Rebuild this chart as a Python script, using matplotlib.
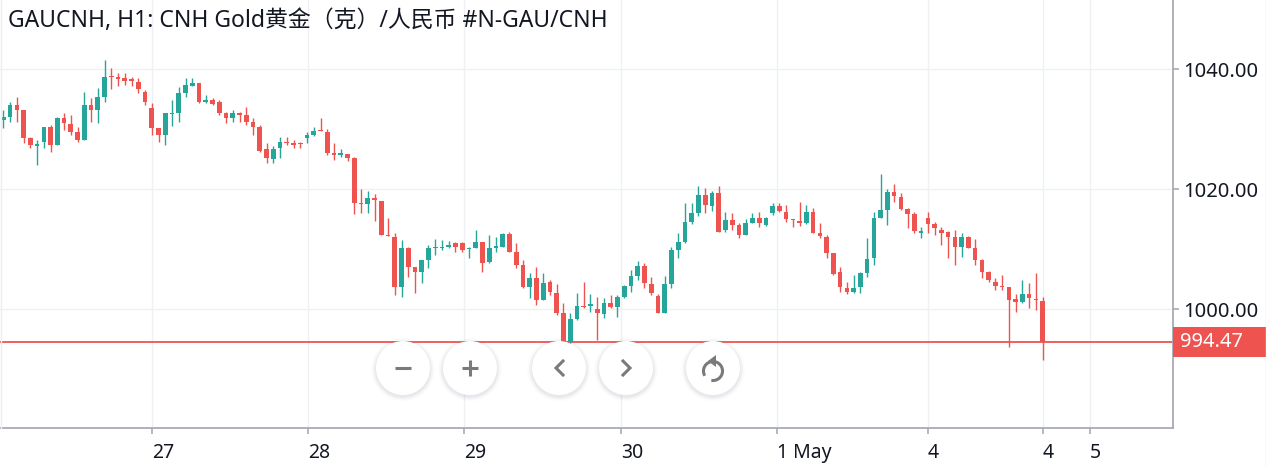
import matplotlib
matplotlib.use('Agg')
import matplotlib.pyplot as plt
from matplotlib.patches import Circle, Rectangle, Arc, Polygon
import matplotlib.transforms as mtransforms
import numpy as np

# ---------------- data ----------------
opens = [1031.50, 1032.06, 1034.00, 1033.17, 1028.45, 1027.23, 1027.89, 1030.39, 1027.34, 1031.78,
         1030.84, 1029.56, 1028.17, 1034.00, 1033.17, 1035.39, 1038.84, 1038.73, 1038.56, 1038.28,
         1037.89, 1036.23, 1033.45, 1030.11, 1029.00, 1032.50, 1032.61, 1036.06, 1037.17, 1037.61,
         1034.56, 1034.83, 1034.55, 1032.61, 1031.77, 1032.61, 1032.33, 1031.22, 1030.38, 1026.61,
         1024.94, 1026.77, 1027.89, 1027.61, 1027.61, 1028.44, 1029.00, 1029.83, 1029.55, 1025.94,
         1025.66, 1025.83, 1025.11, 1017.72, 1017.50, 1018.44, 1018.00, 1012.33, 1012.05, 1003.73,
         1010.11, 1007.06, 1006.23, 1008.17, 1010.11, 1010.11, 1010.39, 1010.95, 1010.95, 1010.00,
         1010.11, 1011.23, 1007.89, 1010.11, 1010.39, 1012.45, 1009.56, 1007.34, 1003.61, 1005.11,
         1001.50, 1004.56, 1002.73, 999.28, 994.56, 998.28, 1000.50, 1000.50, 1000.00, 999.17,
         1001.06, 1000.39, 1002.06, 1003.84, 1005.50, 1007.17, 1004.11, 1002.17, 999.39, 1004.17,
         1009.84, 1011.23, 1014.56, 1015.95, 1019.00, 1017.17, 1019.39, 1013.17, 1014.84, 1014.00,
         1012.34, 1014.39, 1015.11, 1014.00, 1015.95, 1017.17, 1016.23, 1014.95, 1014.56, 1014.28,
         1016.23, 1012.73, 1012.06, 1009.28, 1006.22, 1003.56, 1002.78, 1003.72, 1005.94, 1008.44,
         1015.22, 1016.50, 1019.44, 1018.72, 1016.67, 1015.78, 1012.72, 1015.22, 1014.11, 1013.17,
         1012.78, 1012.06, 1010.39, 1012.06, 1010.11, 1008.17, 1006.11, 1004.44, 1003.89, 1003.72,
         1001.67, 1001.22, 1002.44, 1001.61, 1001.33]
highs = [1033.17, 1034.56, 1035.39, 1033.17, 1028.73, 1028.17, 1030.28, 1030.67, 1032.06, 1032.61,
         1032.34, 1030.39, 1036.23, 1035.11, 1036.78, 1041.50, 1040.11, 1039.28, 1039.28, 1038.61,
         1038.45, 1036.50, 1034.28, 1030.11, 1032.61, 1034.84, 1037.06, 1038.45, 1038.45, 1037.61,
         1035.67, 1035.10, 1034.83, 1032.89, 1033.16, 1032.89, 1033.72, 1031.77, 1030.66, 1027.72,
         1027.16, 1028.61, 1028.61, 1028.16, 1027.89, 1029.55, 1030.27, 1031.77, 1029.94, 1027.72,
         1026.61, 1025.83, 1025.27, 1019.94, 1019.72, 1019.10, 1018.00, 1015.11, 1012.61, 1011.50,
         1010.39, 1007.06, 1008.17, 1010.67, 1011.61, 1011.50, 1011.39, 1011.23, 1011.23, 1010.39,
         1013.17, 1011.23, 1012.34, 1012.06, 1012.61, 1012.89, 1010.95, 1008.17, 1005.95, 1007.06,
         1005.95, 1004.84, 1004.17, 1000.95, 999.28, 1002.73, 1004.56, 1002.50, 1001.95, 1001.78,
         1002.34, 1002.34, 1004.00, 1006.50, 1008.06, 1007.73, 1005.28, 1002.50, 1005.50, 1010.39,
         1012.61, 1017.61, 1017.61, 1020.50, 1020.11, 1019.73, 1020.50, 1016.23, 1015.95, 1014.28,
         1014.95, 1015.95, 1016.23, 1015.28, 1017.61, 1017.61, 1017.34, 1014.95, 1017.89, 1017.34,
         1016.78, 1014.28, 1012.34, 1009.28, 1007.06, 1004.56, 1005.67, 1006.22, 1011.78, 1016.22,
         1022.44, 1020.00, 1020.78, 1019.28, 1016.89, 1016.22, 1013.72, 1016.22, 1014.56, 1013.72,
         1013.00, 1013.17, 1012.61, 1012.22, 1011.67, 1008.33, 1006.33, 1005.11, 1005.67, 1003.72,
         1002.44, 1004.83, 1004.28, 1005.94, 1002.06]
lows = [1030.11, 1031.23, 1031.23, 1027.61, 1026.78, 1024.00, 1026.78, 1026.23, 1027.34, 1029.84,
        1029.00, 1027.89, 1028.17, 1031.23, 1030.95, 1034.56, 1036.61, 1037.17, 1037.34, 1037.17,
        1036.06, 1034.00, 1029.00, 1027.89, 1027.34, 1030.50, 1031.23, 1035.39, 1037.17, 1034.28,
        1034.28, 1034.00, 1032.33, 1030.94, 1031.22, 1031.22, 1030.66, 1029.00, 1026.11, 1024.39,
        1024.39, 1025.11, 1027.33, 1026.77, 1026.77, 1027.61, 1028.83, 1029.66, 1025.66, 1024.83,
        1025.38, 1024.72, 1015.77, 1016.05, 1015.94, 1014.72, 1012.33, 1012.16, 1002.33, 1002.06,
        1005.39, 1002.61, 1004.28, 1006.78, 1009.00, 1009.84, 1010.11, 1009.56, 1009.56, 1008.45,
        1010.11, 1006.23, 1007.61, 1009.56, 1010.28, 1009.56, 1006.78, 1003.45, 1001.78, 1000.67,
        1001.50, 1002.34, 999.00, 994.28, 994.00, 998.17, 1000.11, 999.56, 994.84, 998.45,
        1000.11, 998.73, 1001.78, 1002.89, 1004.84, 1003.45, 1002.34, 999.39, 999.39, 1003.45,
        1008.45, 1011.06, 1014.17, 1015.50, 1016.06, 1016.39, 1012.89, 1012.89, 1013.17, 1011.78,
        1012.34, 1014.28, 1013.61, 1013.84, 1015.67, 1016.23, 1014.56, 1013.61, 1013.84, 1014.17,
        1012.61, 1011.78, 1008.45, 1005.67, 1002.89, 1002.44, 1002.61, 1002.61, 1005.39, 1007.33,
        1015.11, 1014.00, 1017.89, 1016.50, 1013.44, 1012.61, 1011.89, 1012.61, 1012.33, 1010.67,
        1008.44, 1007.33, 1008.72, 1010.11, 1007.33, 1005.11, 1004.56, 1003.17, 1003.17, 993.72,
        999.56, 1000.94, 1000.11, 999.83, 991.50]
closes = [1032.06, 1034.00, 1033.17, 1028.45, 1027.34, 1027.45, 1030.28, 1027.34, 1031.78, 1030.95,
          1029.56, 1028.17, 1034.00, 1033.17, 1035.39, 1038.73, 1038.61, 1038.28, 1038.06, 1038.06,
          1036.61, 1034.56, 1030.11, 1029.00, 1032.61, 1032.73, 1035.95, 1037.34, 1037.61, 1034.56,
          1034.84, 1034.16, 1032.61, 1031.77, 1032.72, 1032.33, 1031.22, 1030.38, 1026.39, 1025.11,
          1026.61, 1027.89, 1027.61, 1027.33, 1027.44, 1029.00, 1029.72, 1029.66, 1025.94, 1025.66,
          1025.94, 1025.11, 1017.72, 1017.50, 1018.44, 1018.16, 1012.33, 1012.16, 1003.72, 1010.11,
          1007.06, 1006.23, 1008.17, 1010.11, 1010.39, 1010.39, 1010.67, 1010.39, 1009.84, 1010.23,
          1011.23, 1007.61, 1010.11, 1010.50, 1012.45, 1009.56, 1007.34, 1003.61, 1005.11, 1001.50,
          1004.28, 1002.89, 999.28, 994.56, 998.28, 1000.50, 1000.28, 1000.84, 999.28, 1001.06,
          1000.28, 1002.06, 1003.84, 1005.50, 1007.17, 1004.28, 1002.61, 999.39, 1004.17, 1009.84,
          1011.23, 1014.56, 1015.95, 1019.00, 1017.34, 1019.39, 1012.89, 1014.84, 1014.00, 1012.34,
          1014.28, 1015.11, 1014.28, 1015.11, 1017.17, 1016.39, 1014.95, 1014.84, 1014.39, 1016.23,
          1012.73, 1012.17, 1009.39, 1005.84, 1003.72, 1002.89, 1003.56, 1005.94, 1008.33, 1015.11,
          1016.50, 1019.44, 1018.89, 1016.67, 1015.78, 1013.00, 1012.89, 1014.11, 1013.56, 1012.72,
          1012.06, 1010.39, 1012.06, 1010.22, 1008.17, 1006.11, 1004.83, 1003.89, 1003.67, 1001.50,
          1001.22, 1002.44, 1001.78, 1001.44, 994.47]

last_price = 994.47
price_ticks = [1000, 1020, 1040]
price_tick_labels = ['1000.00', '1020.00', '1040.00']
time_tick_pos = [22.1, 45.2, 68.3, 91.5, 114.6, 137.0, 154.0, 161.0]
time_tick_labels = ['27', '28', '29', '30', '1 May', '4', '4', '5']
title = 'GAUCNH, H1: CNH Gold黄金（克）/人民币 #N-GAU/CNH'

# ---------------- style ----------------
UP = '#26a69a'
DOWN = '#ef5350'
GRID = '#eef0f4'
AXIS = '#a8abb3'
TEXT = '#131722'
FONT = ['Noto Sans', 'Noto Sans CJK SC', 'DejaVu Sans']
plt.rcParams['font.family'] = FONT

W, H = 1266, 467
fig = plt.figure(figsize=(W / 100, H / 100), dpi=100)
fig.patch.set_facecolor('white')

ax = fig.add_axes([0, 39 / H, 1173 / W, 428 / H])
ax.set_facecolor('white')
ax.set_xlim(-0.489, 173.31)
ax.set_ylim(980.17, 1051.5)

n = len(opens)
x = np.arange(n)
o = np.array(opens); c = np.array(closes)
hi = np.array(highs); lo = np.array(lows)
cols = [UP if cc >= oo else DOWN for oo, cc in zip(o, c)]

ax.vlines(x, lo, hi, colors=cols, linewidth=1.0, zorder=3)
bottoms = np.minimum(o, c)
heights = np.maximum(np.abs(c - o), 0.2)
ax.bar(x, heights, bottom=bottoms, width=0.68, color=cols, linewidth=0, zorder=4)

# grid
ax.set_yticks(price_ticks)
ax.set_xticks(time_tick_pos)
ax.grid(True, color=GRID, linewidth=1.0, zorder=0)
ax.set_axisbelow(True)

# spines
for s in ['top', 'left']:
    ax.spines[s].set_visible(False)
for s in ['right', 'bottom']:
    ax.spines[s].set_color(AXIS)
    ax.spines[s].set_linewidth(1.3)

ax.yaxis.tick_right()
ax.set_yticklabels(price_tick_labels)
ax.tick_params(axis='y', direction='out', length=4, width=1.2, color=AXIS,
               labelsize=14.5, labelcolor=TEXT, pad=3)
ax.set_xticklabels(time_tick_labels)
ax.tick_params(axis='x', direction='out', length=4.5, width=1.2, color=AXIS,
               labelsize=14, labelcolor=TEXT, pad=6)
for lab in ax.get_xticklabels():
    lab.set_horizontalalignment('left')
    if lab.get_text() == '1 May':
        lab.set_fontweight('bold')

# last price line + label
ax.axhline(last_price, color=DOWN, linewidth=1.3, zorder=2)
trans = mtransforms.blended_transform_factory(ax.transAxes, ax.transData)
ax.add_patch(Rectangle((1.0, last_price - 2.45), (W - 1173) / 1173, 4.9,
                       transform=trans, facecolor=DOWN, edgecolor='none',
                       clip_on=False, zorder=5))
ax.text(1.0 + 7 / 1173, last_price, f'{last_price:.2f}', transform=trans,
        color='white', fontsize=14.5, va='center', ha='left', zorder=6)

# title
fig.text(8 / W, 1 - 27 / H, title, fontsize=16.5, color=TEXT, va='baseline', ha='left',
         family=FONT)

# thin frame lines at left / right edges of the image
fig.add_artist(plt.Line2D([1265.5 / W, 1265.5 / W], [0, 1], color='#e3e5ea', lw=1.0))
fig.add_artist(plt.Line2D([0.5 / W, 0.5 / W], [39 / H, 1], color='#eceef2', lw=1.0))

# ---------------- overlay: navigation buttons ----------------
ov = fig.add_axes([0, 0, 1, 1], zorder=10)
ov.set_xlim(0, W)
ov.set_ylim(H, 0)
ov.axis('off')
ov.patch.set_alpha(0)

btn_x = [403, 470, 559, 626, 713]
btn_y = 368
R = 27
GLY = '#7a7a7a'
for bx in btn_x:
    for k, a in zip(range(6, 0, -1), [0.015, 0.02, 0.03, 0.04, 0.05, 0.06]):
        ov.add_patch(Circle((bx, btn_y + 1.5), R + k * 0.8, facecolor='#9098a8',
                            alpha=a, edgecolor='none'))
    ov.add_patch(Circle((bx, btn_y), R, facecolor='white', edgecolor='none'))

lw = 2.2
# minus
ov.plot([btn_x[0] - 8, btn_x[0] + 8], [btn_y, btn_y], color=GLY, lw=lw, solid_capstyle='butt')
# plus
ov.plot([btn_x[1] - 8, btn_x[1] + 8], [btn_y, btn_y], color=GLY, lw=lw, solid_capstyle='butt')
ov.plot([btn_x[1], btn_x[1]], [btn_y - 8, btn_y + 8], color=GLY, lw=lw, solid_capstyle='butt')
# chevrons
ov.plot([btn_x[2] + 4, btn_x[2] - 3, btn_x[2] + 4], [btn_y - 7, btn_y, btn_y + 7],
        color=GLY, lw=lw, solid_joinstyle='miter')
ov.plot([btn_x[3] - 3, btn_x[3] + 4, btn_x[3] - 3], [btn_y - 7, btn_y, btn_y + 7],
        color=GLY, lw=lw, solid_joinstyle='miter')
# reset icon
cx, cy = btn_x[4], btn_y + 3
ov.add_patch(Arc((cx, cy), 19, 19, theta1=-210, theta2=100, color=GLY, lw=lw))
ov.add_patch(Polygon([[cx - 5, cy - 10], [cx + 3, cy - 16], [cx + 3, cy - 4]],
                     closed=True, facecolor=GLY, edgecolor='none'))

fig.savefig('out.png', dpi=100, facecolor='white')
